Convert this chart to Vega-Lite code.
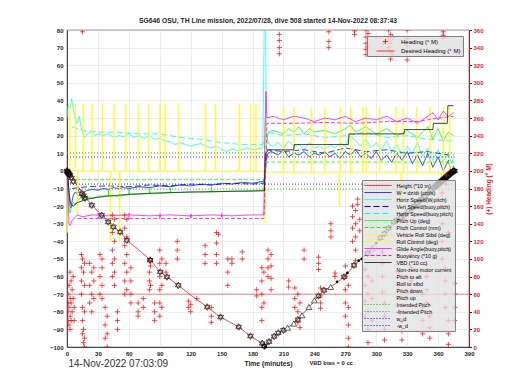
{
"$schema": "https://vega.github.io/schema/vega-lite/v6.json",
"width": 402, "height": 317,
"autosize": {"type": "none"},
"padding": {"left": 67, "top": 30, "right": 51, "bottom": 43},
"background": "white",
"config": {"font": "Liberation Sans", "view": {"stroke": "#262626", "strokeWidth": 0.7}},
"title": {"text": "SG646 OSU, TH Line mission, 2022/07/28, dive 508 started 14-Nov-2022 08:37:43", "fontSize": 6.8, "fontWeight": "bold", "color": "#262626", "anchor": "middle", "frame": "group", "offset": 2},
"datasets": {
"ln": [
{"s":"a","t":0,"v":0},{"s":"a","t":2,"v":-1},{"s":"a","t":5,"v":-4},{"s":"a","t":10,"v":-8.5},{"s":"a","t":15,"v":-13},{"s":"a","t":20,"v":-16.5},{"s":"a","t":24,"v":-19.5},{"s":"a","t":34,"v":-25.2},{"s":"a","t":40,"v":-29},{"s":"a","t":45,"v":-31.8},{"s":"a","t":52,"v":-34.7},{"s":"a","t":58,"v":-39.4},{"s":"a","t":70,"v":-45},{"s":"a","t":81,"v":-50.7},{"s":"a","t":90.5,"v":-57.4},{"s":"a","t":97,"v":-60.2},{"s":"a","t":108,"v":-65},{"s":"a","t":120,"v":-70.5},{"s":"a","t":136,"v":-77.3},{"s":"a","t":149,"v":-83},{"s":"a","t":166.6,"v":-88.6},{"s":"a","t":178,"v":-93.8},{"s":"a","t":189.4,"v":-98},{"s":"a","t":192.6,"v":-100},{"s":"a","t":196,"v":-97},{"s":"a","t":201,"v":-94},{"s":"a","t":210,"v":-90.5},{"s":"a","t":220,"v":-86.7},{"s":"a","t":235,"v":-77.3},{"s":"a","t":249,"v":-67.8},{"s":"a","t":256,"v":-65.9},{"s":"a","t":269,"v":-60.2},{"s":"a","t":278.5,"v":-53.6},{"s":"a","t":291.5,"v":-46.9},{"s":"a","t":308,"v":-35.6},{"s":"a","t":317,"v":-29},{"s":"a","t":327,"v":-25.2},{"s":"a","t":340,"v":-18.5},{"s":"a","t":350,"v":-12.8},{"s":"a","t":360,"v":-7.5},{"s":"a","t":370,"v":-2.5},{"s":"a","t":376,"v":0},
{"s":"b","t":0,"v":0},{"s":"b","t":1,"v":-3},{"s":"b","t":2,"v":-14},{"s":"b","t":3,"v":-20},{"s":"b","t":4,"v":-21},{"s":"b","t":5,"v":-17},{"s":"b","t":6,"v":-14},{"s":"b","t":8,"v":-12},{"s":"b","t":10,"v":-13},{"s":"b","t":12,"v":-10},{"s":"b","t":14,"v":-11},{"s":"b","t":16,"v":-12},{"s":"b","t":20,"v":-11},{"s":"b","t":25,"v":-10.5},{"s":"b","t":30,"v":-11},{"s":"b","t":35,"v":-10},{"s":"b","t":40,"v":-10.5},{"s":"b","t":45,"v":-9.5},{"s":"b","t":50,"v":-10},{"s":"b","t":55,"v":-9.5},{"s":"b","t":60,"v":-10},{"s":"b","t":70,"v":-9},{"s":"b","t":80,"v":-9.5},{"s":"b","t":90,"v":-8.5},{"s":"b","t":100,"v":-9},{"s":"b","t":110,"v":-8},{"s":"b","t":120,"v":-8.5},{"s":"b","t":130,"v":-7.5},{"s":"b","t":140,"v":-8},{"s":"b","t":150,"v":-7},{"s":"b","t":160,"v":-7.5},{"s":"b","t":170,"v":-6.5},{"s":"b","t":180,"v":-7},{"s":"b","t":190,"v":-6},{"s":"b","t":192,"v":-5},{"s":"b","t":193,"v":5},{"s":"b","t":195,"v":10},{"s":"b","t":198,"v":11},{"s":"b","t":205,"v":9},{"s":"b","t":210,"v":12},{"s":"b","t":215,"v":8},{"s":"b","t":220,"v":10},{"s":"b","t":225,"v":9},{"s":"b","t":230,"v":11},{"s":"b","t":235,"v":8},{"s":"b","t":240,"v":10},{"s":"b","t":245,"v":9},{"s":"b","t":250,"v":11},{"s":"b","t":255,"v":8},{"s":"b","t":260,"v":10},{"s":"b","t":265,"v":7},{"s":"b","t":270,"v":11},{"s":"b","t":275,"v":9},{"s":"b","t":280,"v":12},{"s":"b","t":285,"v":8},{"s":"b","t":290,"v":10},{"s":"b","t":295,"v":7},{"s":"b","t":300,"v":11},{"s":"b","t":305,"v":6},{"s":"b","t":310,"v":9},{"s":"b","t":315,"v":5},{"s":"b","t":320,"v":10},{"s":"b","t":325,"v":6},{"s":"b","t":330,"v":11},{"s":"b","t":335,"v":4},{"s":"b","t":340,"v":9},{"s":"b","t":345,"v":3},{"s":"b","t":350,"v":10},{"s":"b","t":355,"v":2},{"s":"b","t":360,"v":8},{"s":"b","t":365,"v":0},{"s":"b","t":370,"v":6},{"s":"b","t":373,"v":-2},{"s":"b","t":375,"v":3},
{"s":"c","t":0,"v":30},{"s":"c","t":1,"v":37},{"s":"c","t":3,"v":36},{"s":"c","t":4.5,"v":41},{"s":"c","t":6,"v":35},{"s":"c","t":8,"v":30},{"s":"c","t":10,"v":27},{"s":"c","t":12,"v":31},{"s":"c","t":14,"v":24},{"s":"c","t":17,"v":19},{"s":"c","t":20,"v":21},{"s":"c","t":23,"v":22},{"s":"c","t":27,"v":20},{"s":"c","t":30,"v":21},{"s":"c","t":35,"v":20},{"s":"c","t":40,"v":21},{"s":"c","t":45,"v":19},{"s":"c","t":50,"v":20},{"s":"c","t":55,"v":19.5},{"s":"c","t":60,"v":21},{"s":"c","t":65,"v":19},{"s":"c","t":70,"v":20},{"s":"c","t":75,"v":18.5},{"s":"c","t":80,"v":20},{"s":"c","t":85,"v":18},{"s":"c","t":90,"v":18.5},{"s":"c","t":95,"v":17},{"s":"c","t":100,"v":16.5},{"s":"c","t":105,"v":15},{"s":"c","t":110,"v":16},{"s":"c","t":115,"v":15},{"s":"c","t":120,"v":14},{"s":"c","t":125,"v":15},{"s":"c","t":130,"v":15.5},{"s":"c","t":135,"v":14},{"s":"c","t":140,"v":13},{"s":"c","t":145,"v":14},{"s":"c","t":150,"v":12},{"s":"c","t":155,"v":11},{"s":"c","t":160,"v":12.5},{"s":"c","t":165,"v":11.5},{"s":"c","t":170,"v":12},{"s":"c","t":175,"v":13},{"s":"c","t":180,"v":12},{"s":"c","t":185,"v":12.5},{"s":"c","t":190,"v":13},{"s":"c","t":191.5,"v":90},{"s":"c","t":192.5,"v":90},{"s":"c","t":193.5,"v":20},{"s":"c","t":196,"v":15},{"s":"c","t":200,"v":14},{"s":"c","t":205,"v":16},{"s":"c","t":210,"v":13},{"s":"c","t":215,"v":17},{"s":"c","t":220,"v":14},{"s":"c","t":225,"v":15},{"s":"c","t":230,"v":12},{"s":"c","t":235,"v":16},{"s":"c","t":240,"v":13},{"s":"c","t":245,"v":14},{"s":"c","t":250,"v":12},{"s":"c","t":255,"v":15},{"s":"c","t":260,"v":13},{"s":"c","t":265,"v":16},{"s":"c","t":270,"v":14},{"s":"c","t":275,"v":20},{"s":"c","t":280,"v":17},{"s":"c","t":285,"v":14},{"s":"c","t":290,"v":18},{"s":"c","t":295,"v":13},{"s":"c","t":300,"v":16},{"s":"c","t":305,"v":12},{"s":"c","t":310,"v":17},{"s":"c","t":315,"v":11},{"s":"c","t":320,"v":15},{"s":"c","t":325,"v":9},{"s":"c","t":330,"v":14},{"s":"c","t":335,"v":10},{"s":"c","t":340,"v":16},{"s":"c","t":345,"v":8},{"s":"c","t":350,"v":13},{"s":"c","t":355,"v":6},{"s":"c","t":360,"v":12},{"s":"c","t":365,"v":5},{"s":"c","t":370,"v":10},{"s":"c","t":373,"v":4},{"s":"c","t":375,"v":8},
{"s":"d","t":5,"v":-10},{"s":"d","t":20,"v":-9},{"s":"d","t":40,"v":-8.5},{"s":"d","t":60,"v":-9},{"s":"d","t":80,"v":-8},{"s":"d","t":100,"v":-8.5},{"s":"d","t":120,"v":-7.5},{"s":"d","t":140,"v":-8},{"s":"d","t":160,"v":-7},{"s":"d","t":180,"v":-7.5},{"s":"d","t":191,"v":-7},{"s":"d","t":194,"v":12},{"s":"d","t":210,"v":11},{"s":"d","t":230,"v":12},{"s":"d","t":250,"v":10},{"s":"d","t":270,"v":13},{"s":"d","t":290,"v":11},{"s":"d","t":310,"v":12},{"s":"d","t":330,"v":10},{"s":"d","t":350,"v":11},{"s":"d","t":370,"v":9},{"s":"d","t":375,"v":9},
{"s":"e","t":5,"v":25},{"s":"e","t":15,"v":23},{"s":"e","t":30,"v":22},{"s":"e","t":50,"v":22},{"s":"e","t":70,"v":21},{"s":"e","t":90,"v":21},{"s":"e","t":110,"v":19},{"s":"e","t":130,"v":18},{"s":"e","t":150,"v":16},{"s":"e","t":170,"v":15},{"s":"e","t":190,"v":15},{"s":"e","t":194,"v":22},{"s":"e","t":210,"v":20},{"s":"e","t":230,"v":21},{"s":"e","t":250,"v":19},{"s":"e","t":270,"v":20},{"s":"e","t":290,"v":22},{"s":"e","t":310,"v":19},{"s":"e","t":330,"v":20},{"s":"e","t":350,"v":18},{"s":"e","t":370,"v":17},{"s":"e","t":375,"v":17},
{"s":"f","t":0,"v":0},{"s":"f","t":1,"v":-10},{"s":"f","t":2,"v":-20},{"s":"f","t":3,"v":-24},{"s":"f","t":4,"v":-21},{"s":"f","t":6,"v":-18},{"s":"f","t":8,"v":-19},{"s":"f","t":10,"v":-17},{"s":"f","t":13,"v":-15.5},{"s":"f","t":16,"v":-16},{"s":"f","t":20,"v":-15},{"s":"f","t":25,"v":-15.5},{"s":"f","t":30,"v":-14.5},{"s":"f","t":40,"v":-14},{"s":"f","t":40.2,"v":-11},{"s":"f","t":40.5,"v":-14},{"s":"f","t":50,"v":-14.5},{"s":"f","t":60,"v":-13.5},{"s":"f","t":60.2,"v":-10.5},{"s":"f","t":60.5,"v":-13.5},{"s":"f","t":80,"v":-13},{"s":"f","t":80.2,"v":-10},{"s":"f","t":80.5,"v":-13},{"s":"f","t":100,"v":-12.5},{"s":"f","t":100.2,"v":-9.5},{"s":"f","t":100.5,"v":-12.5},{"s":"f","t":120,"v":-12},{"s":"f","t":140,"v":-12},{"s":"f","t":140.2,"v":-9},{"s":"f","t":140.5,"v":-12},{"s":"f","t":160,"v":-11.5},{"s":"f","t":180,"v":-11.5},{"s":"f","t":191,"v":-11},{"s":"f","t":193,"v":10},{"s":"f","t":195,"v":22},{"s":"f","t":200,"v":23},{"s":"f","t":210,"v":21},{"s":"f","t":215,"v":24},{"s":"f","t":220,"v":22},{"s":"f","t":225,"v":25},{"s":"f","t":230,"v":21},{"s":"f","t":235,"v":24},{"s":"f","t":240,"v":22},{"s":"f","t":250,"v":23},{"s":"f","t":260,"v":21},{"s":"f","t":270,"v":24},{"s":"f","t":275,"v":26},{"s":"f","t":280,"v":22},{"s":"f","t":290,"v":25},{"s":"f","t":300,"v":21},{"s":"f","t":310,"v":24},{"s":"f","t":320,"v":20},{"s":"f","t":330,"v":23},{"s":"f","t":340,"v":19},{"s":"f","t":350,"v":25},{"s":"f","t":355,"v":18},{"s":"f","t":360,"v":24},{"s":"f","t":365,"v":17},{"s":"f","t":370,"v":22},{"s":"f","t":375,"v":20},
{"s":"g","t":3,"v":-5},{"s":"g","t":191,"v":-5},{"s":"g","t":194,"v":5},{"s":"g","t":376,"v":5},
{"s":"h","t":0,"v":0},{"s":"h","t":0.5,"v":-35},{"s":"h","t":1,"v":0},{"s":"h","t":2.2,"v":0},{"s":"h","t":2.3,"v":38},{"s":"h","t":2.8,"v":38},{"s":"h","t":2.9,"v":0},{"s":"h","t":7.9,"v":0},{"s":"h","t":8,"v":38},{"s":"h","t":8.4,"v":38},{"s":"h","t":8.5,"v":0},{"s":"h","t":10,"v":0},{"s":"h","t":10.1,"v":-25},{"s":"h","t":10.5,"v":-25},{"s":"h","t":10.6,"v":0},{"s":"h","t":15.4,"v":0},{"s":"h","t":15.5,"v":38},{"s":"h","t":16,"v":38},{"s":"h","t":16.1,"v":0},{"s":"h","t":23.9,"v":0},{"s":"h","t":24,"v":38},{"s":"h","t":24.4,"v":38},{"s":"h","t":24.5,"v":0},{"s":"h","t":33.9,"v":0},{"s":"h","t":34,"v":38},{"s":"h","t":34.5,"v":38},{"s":"h","t":34.6,"v":0},{"s":"h","t":41.9,"v":0},{"s":"h","t":42,"v":-40},{"s":"h","t":42.4,"v":-40},{"s":"h","t":42.5,"v":0},{"s":"h","t":45.3,"v":0},{"s":"h","t":45.4,"v":38},{"s":"h","t":45.9,"v":38},{"s":"h","t":46,"v":0},{"s":"h","t":50.9,"v":0},{"s":"h","t":51,"v":-40},{"s":"h","t":51.3,"v":-40},{"s":"h","t":51.4,"v":0},{"s":"h","t":56.6,"v":0},{"s":"h","t":56.7,"v":38},{"s":"h","t":57.2,"v":38},{"s":"h","t":57.3,"v":0},{"s":"h","t":68.9,"v":0},{"s":"h","t":69,"v":38},{"s":"h","t":69.5,"v":38},{"s":"h","t":69.6,"v":0},{"s":"h","t":78.7,"v":0},{"s":"h","t":78.8,"v":38},{"s":"h","t":79.3,"v":38},{"s":"h","t":79.4,"v":0},{"s":"h","t":89.9,"v":0},{"s":"h","t":90,"v":38},{"s":"h","t":90.4,"v":38},{"s":"h","t":90.5,"v":0},{"s":"h","t":94.9,"v":0},{"s":"h","t":95,"v":38},{"s":"h","t":95.5,"v":38},{"s":"h","t":95.6,"v":0},{"s":"h","t":107.9,"v":0},{"s":"h","t":108,"v":38},{"s":"h","t":108.5,"v":38},{"s":"h","t":108.6,"v":0},{"s":"h","t":133.9,"v":0},{"s":"h","t":134,"v":38},{"s":"h","t":134.5,"v":38},{"s":"h","t":134.6,"v":0},{"s":"h","t":143.9,"v":0},{"s":"h","t":144,"v":38},{"s":"h","t":144.5,"v":38},{"s":"h","t":144.6,"v":0},{"s":"h","t":166.9,"v":0},{"s":"h","t":167,"v":38},{"s":"h","t":167.5,"v":38},{"s":"h","t":167.6,"v":0},{"s":"h","t":177.9,"v":0},{"s":"h","t":178,"v":38},{"s":"h","t":178.5,"v":38},{"s":"h","t":178.6,"v":0},{"s":"h","t":182.9,"v":0},{"s":"h","t":183,"v":38},{"s":"h","t":183.5,"v":38},{"s":"h","t":183.6,"v":0},{"s":"h","t":191.9,"v":0},{"s":"h","t":192,"v":30},{"s":"h","t":192.3,"v":-30},{"s":"h","t":192.6,"v":-1},{"s":"h","t":209.9,"v":-1},{"s":"h","t":210,"v":36},{"s":"h","t":210.5,"v":36},{"s":"h","t":210.6,"v":-1},{"s":"h","t":219.9,"v":-1},{"s":"h","t":220,"v":36},{"s":"h","t":220.5,"v":36},{"s":"h","t":220.6,"v":-1},{"s":"h","t":236.9,"v":-1},{"s":"h","t":237,"v":36},{"s":"h","t":237.5,"v":36},{"s":"h","t":237.6,"v":-1},{"s":"h","t":249.9,"v":-1},{"s":"h","t":250,"v":36},{"s":"h","t":250.5,"v":36},{"s":"h","t":250.6,"v":-1},{"s":"h","t":263.9,"v":-1},{"s":"h","t":264,"v":-20},{"s":"h","t":264.4,"v":-20},{"s":"h","t":264.5,"v":-1},{"s":"h","t":264.9,"v":-1},{"s":"h","t":265,"v":36},{"s":"h","t":265.5,"v":36},{"s":"h","t":265.6,"v":-1},{"s":"h","t":274.9,"v":-1},{"s":"h","t":275,"v":36},{"s":"h","t":275.5,"v":36},{"s":"h","t":275.6,"v":-1},{"s":"h","t":286.9,"v":-1},{"s":"h","t":287,"v":36},{"s":"h","t":287.4,"v":36},{"s":"h","t":287.5,"v":-1},{"s":"h","t":290,"v":-1},{"s":"h","t":290.1,"v":36},{"s":"h","t":290.5,"v":36},{"s":"h","t":290.6,"v":-1},{"s":"h","t":302.9,"v":-1},{"s":"h","t":303,"v":36},{"s":"h","t":303.5,"v":36},{"s":"h","t":303.6,"v":-1},{"s":"h","t":318.9,"v":-1},{"s":"h","t":319,"v":36},{"s":"h","t":319.5,"v":36},{"s":"h","t":319.6,"v":-1},{"s":"h","t":323.9,"v":-1},{"s":"h","t":324,"v":-20},{"s":"h","t":324.4,"v":-20},{"s":"h","t":324.5,"v":-1},{"s":"h","t":325.9,"v":-1},{"s":"h","t":326,"v":36},{"s":"h","t":326.5,"v":36},{"s":"h","t":326.6,"v":-1},{"s":"h","t":338.9,"v":-1},{"s":"h","t":339,"v":36},{"s":"h","t":339.5,"v":36},{"s":"h","t":339.6,"v":-1},{"s":"h","t":351.9,"v":-1},{"s":"h","t":352,"v":36},{"s":"h","t":352.5,"v":36},{"s":"h","t":352.6,"v":-1},{"s":"h","t":362.9,"v":-1},{"s":"h","t":363,"v":-15},{"s":"h","t":363.3,"v":-15},{"s":"h","t":363.4,"v":-1},{"s":"h","t":364.9,"v":-1},{"s":"h","t":365,"v":36},{"s":"h","t":365.5,"v":36},{"s":"h","t":365.6,"v":-1},{"s":"h","t":370.9,"v":-1},{"s":"h","t":371,"v":36},{"s":"h","t":371.5,"v":36},{"s":"h","t":371.6,"v":-1},{"s":"h","t":375,"v":-1},
{"s":"j","t":0,"v":0},{"s":"j","t":1,"v":-15},{"s":"j","t":2,"v":-30},{"s":"j","t":3,"v":-31},{"s":"j","t":5,"v":-28},{"s":"j","t":7,"v":-27},{"s":"j","t":10,"v":-25},{"s":"j","t":15,"v":-26},{"s":"j","t":25,"v":-25},{"s":"j","t":40,"v":-25.5},{"s":"j","t":60,"v":-25},{"s":"j","t":80,"v":-25.5},{"s":"j","t":100,"v":-25},{"s":"j","t":120,"v":-25.5},{"s":"j","t":140,"v":-25},{"s":"j","t":160,"v":-25.5},{"s":"j","t":180,"v":-25},{"s":"j","t":191,"v":-25},{"s":"j","t":192,"v":20},{"s":"j","t":193,"v":45},{"s":"j","t":194,"v":30},{"s":"j","t":200,"v":31},{"s":"j","t":210,"v":29},{"s":"j","t":220,"v":31},{"s":"j","t":230,"v":30},{"s":"j","t":240,"v":28},{"s":"j","t":250,"v":30},{"s":"j","t":260,"v":29},{"s":"j","t":270,"v":31},{"s":"j","t":280,"v":28},{"s":"j","t":290,"v":30},{"s":"j","t":300,"v":29},{"s":"j","t":310,"v":31},{"s":"j","t":320,"v":28},{"s":"j","t":330,"v":30},{"s":"j","t":340,"v":27},{"s":"j","t":350,"v":31},{"s":"j","t":355,"v":33},{"s":"j","t":360,"v":29},{"s":"j","t":365,"v":34},{"s":"j","t":370,"v":31},{"s":"j","t":375,"v":33},
{"s":"k","t":10,"v":-27},{"s":"k","t":30,"v":-27},{"s":"k","t":30.2,"v":-24},{"s":"k","t":30.5,"v":-27},{"s":"k","t":60,"v":-27},{"s":"k","t":60.2,"v":-24},{"s":"k","t":60.5,"v":-27},{"s":"k","t":90,"v":-27},{"s":"k","t":90.2,"v":-24},{"s":"k","t":90.5,"v":-27},{"s":"k","t":120,"v":-27},{"s":"k","t":120.2,"v":-24},{"s":"k","t":120.5,"v":-27},{"s":"k","t":150,"v":-27},{"s":"k","t":150.2,"v":-24},{"s":"k","t":150.5,"v":-27},{"s":"k","t":180,"v":-27},{"s":"k","t":191,"v":-27},{"s":"k","t":194,"v":27},{"s":"k","t":220,"v":27},{"s":"k","t":250,"v":27.5},{"s":"k","t":280,"v":27},{"s":"k","t":310,"v":28},{"s":"k","t":340,"v":28},{"s":"k","t":360,"v":30},{"s":"k","t":375,"v":31},
{"s":"l","t":0,"v":0},{"s":"l","t":1,"v":-5},{"s":"l","t":2,"v":-12},{"s":"l","t":3,"v":-17},{"s":"l","t":4,"v":-19},{"s":"l","t":6,"v":-20},{"s":"l","t":8,"v":-19},{"s":"l","t":10,"v":-18},{"s":"l","t":15,"v":-17},{"s":"l","t":20,"v":-16},{"s":"l","t":30,"v":-15},{"s":"l","t":40,"v":-14.3},{"s":"l","t":50,"v":-13.8},{"s":"l","t":60,"v":-13.3},{"s":"l","t":80,"v":-12.7},{"s":"l","t":100,"v":-12.3},{"s":"l","t":120,"v":-12},{"s":"l","t":140,"v":-11.8},{"s":"l","t":160,"v":-11.6},{"s":"l","t":180,"v":-11.4},{"s":"l","t":191.5,"v":-11.3},{"s":"l","t":192.5,"v":10},{"s":"l","t":196,"v":12},{"s":"l","t":220,"v":12},{"s":"l","t":220.5,"v":15},{"s":"l","t":273,"v":15},{"s":"l","t":273.5,"v":21},{"s":"l","t":327,"v":21},{"s":"l","t":327.5,"v":23.5},{"s":"l","t":355,"v":23.5},{"s":"l","t":355.5,"v":27},{"s":"l","t":369,"v":27},{"s":"l","t":369.5,"v":37},{"s":"l","t":375,"v":37},
{"s":"r","t":0,"v":10.3},{"s":"r","t":376,"v":10.3},
{"s":"s","t":0,"v":-10.3},{"s":"s","t":376,"v":-10.3},
{"s":"t","t":0,"v":7.9},{"s":"t","t":376,"v":7.9},
{"s":"u","t":0,"v":-7.5},{"s":"u","t":376,"v":-7.5}
],
"hex": [
{"t":3,"v":-2.5},{"t":4.5,"v":-4},{"t":6.2,"v":-6},{"t":14.3,"v":-13},{"t":16,"v":-14},{"t":17.5,"v":-15.5},{"t":24,"v":-19.5},{"t":33.7,"v":-25.2},{"t":40,"v":-29},{"t":45,"v":-31.8},{"t":51.6,"v":-34.7},{"t":58,"v":-39.4},{"t":90.5,"v":-57.4},{"t":97,"v":-60.2},{"t":108,"v":-65},{"t":136,"v":-77.3},{"t":149,"v":-83},{"t":166.6,"v":-88.6},{"t":178,"v":-93.8},{"t":189.4,"v":-98},{"t":196,"v":-97},{"t":201,"v":-94},{"t":205,"v":-92},{"t":210,"v":-90.5},{"t":224,"v":-84.5},{"t":244,"v":-71},{"t":249.3,"v":-67.8},{"t":268.8,"v":-60.2},{"t":278.5,"v":-53.6},{"t":304,"v":-38}
],
"hexk": [
{"t":0,"v":0},{"t":0.5,"v":-0.5},{"t":1,"v":-1},{"t":1.5,"v":-1.5},{"t":2.2,"v":-2},{"t":80.7,"v":-50.7},{"t":191.5,"v":-99.5},{"t":291.5,"v":-46.9},{"t":308,"v":-35.6},{"t":312,"v":-32.5},{"t":317,"v":-29},{"t":320,"v":-28},{"t":324,"v":-26.5},{"t":327,"v":-25.2},{"t":331,"v":-23},{"t":335,"v":-21},{"t":337,"v":-20},{"t":340,"v":-18.5},{"t":342,"v":-17},{"t":344,"v":-16},{"t":347,"v":-14.5},{"t":350,"v":-12.8},{"t":353,"v":-11},{"t":356,"v":-9.5},{"t":357,"v":-9},{"t":358,"v":-8.5},{"t":359,"v":-8},{"t":360,"v":-7.5},{"t":361,"v":-7},{"t":362,"v":-6.5},{"t":363,"v":-6},{"t":364,"v":-5.5},{"t":365,"v":-5},{"t":366,"v":-4.5},{"t":367,"v":-4},{"t":368,"v":-3.5},{"t":369,"v":-3},{"t":370,"v":-2.5},{"t":371,"v":-2},{"t":372,"v":-1.5},{"t":373,"v":-1},{"t":374,"v":-0.5},{"t":375,"v":-0.2},{"t":376,"v":0}
],
"tri": [
{"t":214,"v":-89},{"t":220,"v":-86.7},{"t":228,"v":-82},{"t":234.7,"v":-77.3},{"t":240,"v":-73.5},{"t":255.8,"v":-65.9},{"t":296,"v":-44}
],
"dot": [
{"t":192.6,"v":-100},{"t":262,"v":-63},{"t":272,"v":-58},{"t":283,"v":-51},{"t":286,"v":-50},{"t":300,"v":-41},{"t":321,"v":-27.5}
],
"dh": [{"h":60}],
"hd": [
{"t":1,"h":60},{"t":1,"h":50},{"t":1,"h":40},{"t":1,"h":30},{"t":2,"h":70},{"t":2,"h":45},{"t":2,"h":25},{"t":3,"h":85},{"t":3,"h":55},{"t":3,"h":35},{"t":3,"h":20},{"t":4,"h":75},{"t":4,"h":50},{"t":4,"h":30},{"t":5,"h":65},{"t":5,"h":40},{"t":6,"h":80},{"t":6,"h":55},{"t":7,"h":45},{"t":7,"h":30},
{"t":14,"h":105},{"t":14,"h":90},{"t":14,"h":75},{"t":14,"h":60},{"t":15,"h":100},{"t":15,"h":45},{"t":15,"h":30},{"t":15,"h":15},{"t":16,"h":85},{"t":16,"h":20},{"t":16,"h":5},{"t":17,"h":95},{"t":17,"h":70},{"t":17,"h":40},{"t":17,"h":10},{"t":17,"h":0},
{"t":22,"h":95},{"t":22,"h":70},{"t":22,"h":50},{"t":24,"h":85},{"t":24,"h":60},{"t":24,"h":40},{"t":26,"h":90},{"t":26,"h":75},{"t":26,"h":55},
{"t":32,"h":105},{"t":32,"h":80},{"t":32,"h":60},{"t":34,"h":100},{"t":34,"h":90},{"t":34,"h":70},{"t":34,"h":55},
{"t":37,"h":45},{"t":37,"h":25},{"t":37,"h":10},{"t":39,"h":35},{"t":39,"h":15},{"t":39,"h":0},
{"t":44,"h":150},{"t":44,"h":130},{"t":44,"h":110},{"t":44,"h":95},{"t":44,"h":80},{"t":46,"h":145},{"t":46,"h":120},{"t":46,"h":100},{"t":46,"h":85},{"t":46,"h":70},
{"t":49,"h":40},{"t":49,"h":30},{"t":49,"h":20},
{"t":56,"h":150},{"t":56,"h":135},{"t":56,"h":115},{"t":56,"h":95},{"t":56,"h":75},{"t":56,"h":60},{"t":58,"h":145},{"t":58,"h":125},{"t":58,"h":105},{"t":58,"h":85},{"t":58,"h":65},
{"t":62,"h":90},{"t":62,"h":75},{"t":62,"h":60},{"t":62,"h":50},
{"t":69,"h":50},{"t":69,"h":40},{"t":69,"h":35},{"t":74,"h":55},{"t":74,"h":45},
{"t":80,"h":98},{"t":80,"h":85},{"t":80,"h":75},{"t":80,"h":65},{"t":81,"h":92},{"t":81,"h":70},
{"t":85,"h":50},{"t":85,"h":40},{"t":85,"h":30},
{"t":90,"h":110},{"t":90,"h":95},{"t":90,"h":80},{"t":90,"h":65},{"t":90,"h":50},{"t":90,"h":35},{"t":92,"h":100},{"t":92,"h":70},{"t":92,"h":45},
{"t":96,"h":95},{"t":96,"h":85},{"t":107,"h":120},{"t":107,"h":110},{"t":107,"h":100},
{"t":118,"h":52},{"t":118,"h":45},{"t":120,"h":48},{"t":120,"h":40},{"t":126,"h":55},
{"t":134,"h":115},{"t":134,"h":105},{"t":134,"h":95},{"t":140,"h":45},{"t":140,"h":35},{"t":140,"h":28},
{"t":145,"h":130},{"t":145,"h":118},{"t":145,"h":105},{"t":145,"h":95},{"t":147,"h":128},
{"t":156,"h":100},{"t":156,"h":85},{"t":156,"h":70},{"t":160,"h":100},{"t":160,"h":95},{"t":170,"h":108},{"t":170,"h":100},
{"t":184,"h":65},{"t":184,"h":58},
{"t":189,"h":90},{"t":189,"h":75},{"t":189,"h":60},{"t":189,"h":45},{"t":189,"h":30},{"t":191,"h":85},{"t":191,"h":50},
{"t":195,"h":110},{"t":195,"h":100},{"t":195,"h":90},{"t":195,"h":80},{"t":198,"h":105},{"t":198,"h":92},{"t":198,"h":78},{"t":198,"h":65},
{"t":215,"h":75},{"t":215,"h":68},
{"t":221,"h":67},{"t":221,"h":55},{"t":221,"h":45},{"t":224,"h":60},{"t":224,"h":40},{"t":224,"h":28},{"t":226,"h":50},{"t":226,"h":22},
{"t":230,"h":110},{"t":230,"h":100},
{"t":244,"h":102},{"t":244,"h":95},{"t":244,"h":88},{"t":246,"h":67},{"t":246,"h":58},{"t":246,"h":50},{"t":246,"h":44},
{"t":256,"h":140},{"t":256,"h":132},{"t":256,"h":125},{"t":260,"h":84},{"t":260,"h":80},
{"t":270,"h":92},{"t":270,"h":80},{"t":270,"h":65},{"t":270,"h":50},{"t":270,"h":35},{"t":273,"h":70},{"t":273,"h":45},{"t":273,"h":25},{"t":273,"h":10},{"t":273,"h":0},
{"t":277,"h":160},{"t":277,"h":148},{"t":277,"h":135},{"t":277,"h":120},{"t":280,"h":155},{"t":280,"h":140},{"t":280,"h":125},{"t":280,"h":110},{"t":280,"h":98},
{"t":282,"h":168},{"t":282,"h":162},{"t":284,"h":145},{"t":284,"h":132},
{"t":289,"h":88},{"t":289,"h":70},{"t":289,"h":52},{"t":289,"h":35},{"t":292,"h":80},{"t":292,"h":60},{"t":292,"h":40},{"t":292,"h":20},{"t":292,"h":5},{"t":296,"h":75},{"t":296,"h":55},{"t":296,"h":30},
{"t":306,"h":108},{"t":306,"h":95},{"t":306,"h":80},{"t":306,"h":62},{"t":308,"h":50},{"t":308,"h":35},{"t":308,"h":20},{"t":308,"h":8},
{"t":322,"h":84},{"t":322,"h":70},{"t":322,"h":55},{"t":322,"h":40},{"t":325,"h":30},{"t":325,"h":18},{"t":325,"h":8},
{"t":334,"h":121},{"t":334,"h":105},{"t":334,"h":90},{"t":334,"h":75},{"t":334,"h":63},
{"t":345,"h":60},{"t":345,"h":45},{"t":345,"h":30},{"t":345,"h":15},
{"t":349,"h":94},{"t":349,"h":80},{"t":349,"h":65},{"t":349,"h":50},{"t":352,"h":35},{"t":352,"h":22},{"t":352,"h":10},
{"t":364,"h":175},{"t":364,"h":160},{"t":364,"h":140},{"t":364,"h":120},{"t":364,"h":100},{"t":367,"h":90},{"t":367,"h":75},{"t":367,"h":60},{"t":367,"h":45},{"t":368,"h":195},{"t":368,"h":185},{"t":370,"h":130},{"t":370,"h":110},{"t":370,"h":30},{"t":370,"h":15},{"t":370,"h":3},
{"t":376,"h":72},{"t":376,"h":60},{"t":376,"h":45},{"t":376,"h":30},
{"t":15,"h":358},{"t":206,"h":355},{"t":206,"h":348},{"t":206,"h":340},{"t":206,"h":333},{"t":254,"h":358},{"t":254,"h":347},{"t":254,"h":340},{"t":279,"h":359},{"t":279,"h":355},
{"t":290,"h":360},{"t":290,"h":352},{"t":290,"h":345},{"t":290,"h":338},{"t":290,"h":332},{"t":292,"h":356},{"t":292,"h":341},{"t":307,"h":345},
{"t":312,"h":360},{"t":312,"h":350},{"t":312,"h":340},{"t":314,"h":355},{"t":314,"h":345},{"t":314,"h":335},{"t":314,"h":327},{"t":316,"h":352},{"t":316,"h":332},
{"t":330,"h":360},{"t":330,"h":350},{"t":330,"h":342},{"t":330,"h":335},{"t":330,"h":326},{"t":365,"h":358},{"t":365,"h":354},{"t":365,"h":351}
]
},
"layer": [
{
"data": {"name": "ln"},
"mark": {"type": "line", "strokeWidth": 0.8, "clip": true},
"encoding": {
"x": {"field": "t", "type": "quantitative", "scale": {"domain": [0, 390], "nice": false, "zero": false},
"axis": {"orient": "bottom", "values": [0,30,60,90,120,150,180,210,240,270,300,330,360,390], "labelOverlap": false, "grid": true, "gridColor": "#e3e3e3", "gridWidth": 0.6, "ticks": false, "labelFlush": false, "labelPadding": 3, "labelFontSize": 6, "labelFontWeight": "bold", "labelColor": "#262626", "domainColor": "#262626", "domainWidth": 0.8, "title": "Time (minutes)", "titleFontSize": 6.8, "titleFontWeight": "bold", "titleColor": "#262626", "titlePadding": 4}},
"y": {"field": "v", "type": "quantitative", "scale": {"domain": [-100, 80], "nice": false, "zero": false},
"axis": {"orient": "left", "values": [-100,-90,-80,-70,-60,-50,-40,-30,-20,-10,0,10,20,30,40,50,60,70,80], "labelOverlap": false, "grid": true, "gridColor": "#e3e3e3", "gridWidth": 0.6, "ticks": false, "labelPadding": 4, "labelFontSize": 6, "labelFontWeight": "bold", "labelColor": "#262626", "domainColor": "#262626", "domainWidth": 0.8, "title": "14-Nov-2022 07:03:09", "titleX": 1, "titleY": 333, "titleAngle": 0, "titleAlign": "left", "titleBaseline": "middle", "titleFontSize": 10, "titleFontWeight": "normal", "titleColor": "#333333"}},
"color": {"field": "s", "type": "nominal",
"scale": {"domain": ["a","b","c","d","e","f","g","h","i","j","k","l","m","n","o","p","q","r","s","t","u"],
"range": ["#ff0000","#0000ff","#00ffff","#0000ff","#00ffff","#00ff00","#00ff00","#ffff00","#ffff00","#ff00ff","#ff00ff","#000000","transparent","transparent","transparent","transparent","transparent","#00c000","#00c000","#0000ff","#0000ff"]},
"legend": {"orient": "none", "legendX": 295, "legendY": 150, "title": null, "symbolType": "M-4.5,0L4.5,0", "symbolSize": 36, "symbolStrokeWidth": 1, "symbolFillColor": "transparent", "symbolOffset": 10.5, "labelOffset": 15, "labelFontSize": 5.3, "labelColor": "#000000", "rowPadding": 0, "padding": 2, "fillColor": "rgba(226,226,226,0.78)", "strokeColor": "#808080",
"encode": {"symbols": {"update": {"stroke": {"scale": "color", "field": "value"}, "strokeDash": {"scale": "strokeDash", "field": "value"}}}},
"labelExpr": "['Height (*10 m)','W = dz/dt (cm/s)','Horiz Speed(W,pitch)','Vert Speed(buoy,pitch)','Horiz Speed(buoy,pitch)','Pitch Up (deg)','Pitch Control (mm)','Vehicle Roll Stbd (deg)','Roll Control (deg)','Glide Angle(buoy,pitch)','Buoyancy (*10 g)','VBD (*10 cc)','Non-zero motor current','Pitch to aft','Roll to stbd','Pitch down','Pitch up','Intended Pitch','-Intended Pitch','w_d','-w_d'][indexof('abcdefghijklmnopqrstu', datum.label)]"}},
"strokeDash": {"field": "s", "type": "nominal",
"scale": {"domain": ["a","b","c","d","e","f","g","h","i","j","k","l","m","n","o","p","q","r","s","t","u"],
"range": [[1,0],[1,0],[1,0],[6,3],[6,3],[1,0],[4,2],[1,0],[4,2],[1,0],[4,2],[1,0],[1,0],[1,0],[1,0],[1,0],[1,0],[1,2],[1,2],[1,2],[1,2]]},
"legend": null}
}
},
{
"data": {"name": "hex"},
"mark": {"type": "point", "shape": "M0,-1L0.866,0.5L-0.866,0.5ZM0,1L0.866,-0.5L-0.866,-0.5Z", "filled": true, "fill": "#f0eedc", "stroke": "#000000", "strokeWidth": 0.6, "size": 45, "opacity": 1},
"encoding": {"x": {"field": "t", "type": "quantitative", "scale": {"domain": [0, 390], "nice": false, "zero": false}, "axis": null}, "y": {"field": "v", "type": "quantitative", "scale": {"domain": [-100, 80], "nice": false, "zero": false}, "axis": null}}
},
{
"data": {"name": "hexk"},
"mark": {"type": "point", "shape": "M0,-1L0.866,0.5L-0.866,0.5ZM0,1L0.866,-0.5L-0.866,-0.5Z", "filled": true, "fill": "#303030", "stroke": "#000000", "strokeWidth": 0.6, "size": 45, "opacity": 1},
"encoding": {"x": {"field": "t", "type": "quantitative", "scale": {"domain": [0, 390], "nice": false, "zero": false}, "axis": null}, "y": {"field": "v", "type": "quantitative", "scale": {"domain": [-100, 80], "nice": false, "zero": false}, "axis": null}}
},
{
"data": {"name": "tri"},
"mark": {"type": "point", "shape": "triangle-up", "filled": true, "fill": "#f2f2f2", "stroke": "#000000", "strokeWidth": 0.6, "size": 35, "opacity": 1},
"encoding": {"x": {"field": "t", "type": "quantitative", "scale": {"domain": [0, 390], "nice": false, "zero": false}, "axis": null}, "y": {"field": "v", "type": "quantitative", "scale": {"domain": [-100, 80], "nice": false, "zero": false}, "axis": null}}
},
{
"data": {"name": "dot"},
"mark": {"type": "point", "shape": "circle", "filled": true, "color": "#000000", "size": 8, "opacity": 1},
"encoding": {"x": {"field": "t", "type": "quantitative", "scale": {"domain": [0, 390], "nice": false, "zero": false}, "axis": null}, "y": {"field": "v", "type": "quantitative", "scale": {"domain": [-100, 80], "nice": false, "zero": false}, "axis": null}}
},
{
"data": {"name": "dh"},
"mark": {"type": "rule", "color": "#ff0000", "strokeWidth": 0.6, "opacity": 0.8},
"encoding": {"y": {"field": "h", "type": "quantitative", "scale": {"domain": [0, 360], "nice": false, "zero": false}, "axis": null}}
},
{
"data": {"name": "hd"},
"mark": {"type": "point", "filled": false, "color": "#ff0000", "strokeWidth": 0.7, "size": 28, "opacity": 1, "clip": true},
"encoding": {
"x": {"field": "t", "type": "quantitative", "scale": {"domain": [0, 390], "nice": false, "zero": false},
"axis": {"orient": "top", "labels": false, "ticks": false, "domain": false, "grid": false, "title": "VBD bias = 0 cc", "titleX": 242, "titleY": 332, "titleAlign": "left", "titleBaseline": "middle", "titleFontSize": 5.8, "titleFontWeight": "bold", "titleColor": "#262626"}},
"y": {"field": "h", "type": "quantitative", "scale": {"domain": [0, 360], "nice": false, "zero": false},
"axis": {"orient": "right", "values": [0,20,40,60,80,100,120,140,160,180,200,220,240,260,280,300,320,340,360], "labelOverlap": false, "grid": false, "labelColor": "#e8202a", "labelFontSize": 6, "labelFontWeight": "bold", "tickColor": "#800000", "tickSize": 2.5, "domainColor": "#800000", "domainWidth": 0.8, "labelPadding": 1.5, "title": "(+) Heading (° M)", "titleColor": "#e8202a", "titleFontSize": 6.5, "titleFontWeight": "bold", "titleAngle": 270, "titlePadding": 8}},
"shape": {"datum": "Heading (° M)", "type": "nominal",
"scale": {"domain": ["Heading (° M)", "Desired Heading (° M)"], "range": ["M-1,0L1,0M0,-1L0,1", "M-3.4,0L3.4,0"]},
"legend": {"orient": "none", "legendX": 300, "legendY": 6, "title": null, "symbolSize": 28, "symbolStrokeColor": "#ff0000", "symbolFillColor": "transparent", "symbolStrokeWidth": 0.8, "symbolOffset": 13, "labelOffset": 12, "labelFontSize": 6, "labelColor": "#000000", "rowPadding": 1.5, "padding": 2, "fillColor": "rgba(226,226,226,0.85)", "strokeColor": "#808080"}}
}
}
],
"resolve": {"scale": {"x": "independent", "y": "independent"}}
}
